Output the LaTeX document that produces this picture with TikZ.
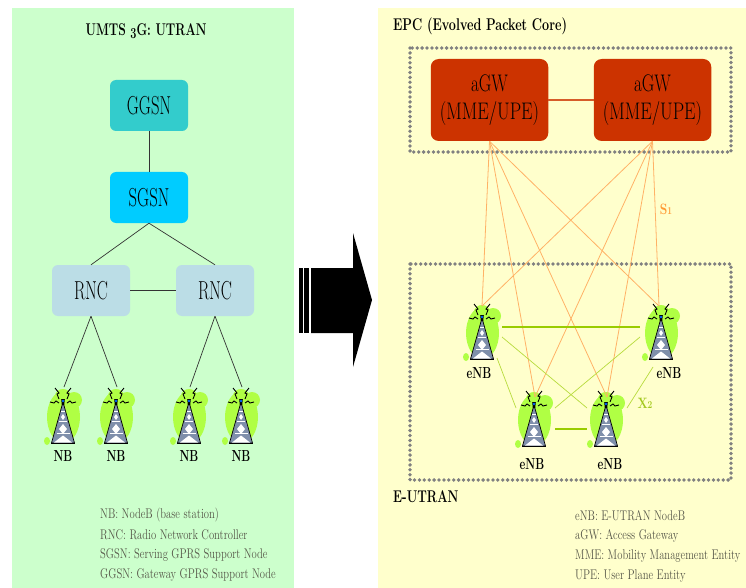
\documentclass[tikz,border=0pt]{standalone}
\newcommand\sq[2]{\scalebox{#1}[1]{#2}}
\newcommand\fs[1]{\fontsize{#1}{#1}\selectfont}
\definecolor{lpanel}{HTML}{CCFFCC}
\definecolor{rpanel}{HTML}{FFFFCC}
\definecolor{ggc}{HTML}{33CCCC}
\definecolor{sgc}{HTML}{00CCFF}
\definecolor{rnc}{HTML}{BBDDE6}
\definecolor{blob}{HTML}{B0FF44}
\definecolor{slate}{HTML}{7F8FAB}
\definecolor{agwc}{HTML}{CC3300}
\definecolor{orl}{HTML}{FFB266}
\definecolor{ort}{HTML}{FF9933}
\definecolor{grl}{HTML}{99CC00}
\definecolor{grt}{HTML}{A3C81E}
\definecolor{legend}{HTML}{555548}
\tikzset{
  box/.style={rounded corners=6pt,inner sep=0pt,minimum width=78pt,minimum height=51pt,align=center},
  agwbox/.style={box,fill=agwc,minimum width=117.5pt,minimum height=82pt,rounded corners=8pt},
  link/.style={line width=0.7pt,black!80},
  olink/.style={line width=0.8pt,orl},
  gthick/.style={line width=1.3pt,grl},
  gthin/.style={line width=0.7pt,grl!70!rpanel},
  dotbox/.style={draw=black!50,line width=3.8pt,line cap=round,dash pattern=on 0pt off 4.9pt},
  lab/.style={inner sep=0pt,anchor=west},
  tlab/.style={inner sep=0pt},
  pics/tower/.style={code={
    \fill[blob] (0.5,15) ellipse[x radius=16.5,y radius=26];
    \fill[blob] (11,-2) circle[radius=8];
    \fill[blob] (0,-6) ellipse[x radius=8,y radius=7];
    \fill[blob] (-16,39) ellipse[x radius=3,y radius=4];
    \fill[slate,draw=black,line width=0.7pt] (0,0)--(11.5,41)--(-11.5,41)--cycle;
    \fill[white] (0,12)--(2,15)--(0,18)--(-2,15)--cycle;
    \fill[white] (0,22)--(4,27)--(0,32)--(-4,27)--cycle;
    \fill[white] (-9,40.5)--(0,33.5)--(9,40.5)--cycle;
    \draw[white,line width=0.4pt] (-2,9)--(2,9) (-4,19)--(4,19) (-6.5,31)--(6.5,31);
    \draw[line width=1.2pt] (-12,41.2)--(12,41.2);
    \fill[black] (-1.8,-3)--(1.8,-3)--(1.2,3)--(-1.2,3)--cycle;
    \fill[blue!60!cyan] (0,-1) circle[radius=1.3];
    \draw[line width=0.9pt] (-4,-3)--(-6,-8)--(-4,-9)--(-8,-14);
    \draw[line width=0.9pt] (4,-3)--(6,-8)--(4,-9)--(8,-14);
    \draw[line width=0.9pt] (-4,1)--(-7,-1)--(-9,1)--(-13,0);
    \draw[line width=0.9pt] (4,1)--(7,-1)--(9,1)--(13,0);
  }}
}
\begin{document}
\begin{tikzpicture}[x=1pt,y=-1pt]
\useasboundingbox (0,0) rectangle (746,588);
\fill[lpanel] (12,8) rectangle (294,588);
\fill[rpanel] (378,8) rectangle (746,588);

% left side
\node[tlab] (ttl) at (146,31) {\fs{17}\bfseries\sq{.71}{UMTS \raisebox{-2.5pt}{\scalebox{.9}{3}}G: UTRAN}};
\node[box,fill=ggc] (ggsn) at (149,105.5) {\fs{26}\sq{.64}{GGSN}};
\node[box,fill=sgc] (sgsn) at (149,197.5) {\fs{26}\sq{.64}{SGSN}};
\node[box,fill=rnc] (rncl) at (91,290.5) {\fs{26}\sq{.64}{RNC}};
\node[box,fill=rnc] (rncr) at (215,290.5) {\fs{26}\sq{.64}{RNC}};
\draw[link] (ggsn) -- (sgsn);
\draw[link] (sgsn.south) -- (rncl.north);
\draw[link] (sgsn.south) -- (rncr.north);
\draw[link,line width=1.2pt] (rncl) -- (rncr);
\foreach \n/\x in {a/63,b/116,c/189,d/241}{
  \pic at (\x,402) {tower};
  \coordinate (nb\n) at (\x+1,387);
  \node[tlab] (lb\n) at (\x,456) {\fs{16}\bfseries\sq{.7}{NB}};
}
\draw[link] (rncl.south) -- (nba);
\draw[link] (rncl.south) -- (nbb);
\draw[link] (rncr.south) -- (nbc);
\draw[link] (rncr.south) -- (nbd);
\node[lab,text=legend] (la) at (100,515) {\fs{14}\sq{.76}{NB: NodeB (base station)}};
\node[lab,text=legend] (lc) at (100,535) {\fs{14}\sq{.76}{RNC: Radio Network Controller}};
\node[lab,text=legend] (ld) at (100,555) {\fs{14}\sq{.76}{SGSN: Serving GPRS Support Node}};
\node[lab,text=legend] (le) at (100,575) {\fs{14}\sq{.76}{GGSN: Gateway GPRS Support Node}};

% arrow
\fill (299,268) rectangle (303,333);
\fill (304,268) rectangle (309,333);
\fill (311,268) -- (353,268) -- (353,233) -- (372,300) -- (353,367) -- (353,333) -- (311,333) -- cycle;

% right side
\node[lab] (epc) at (393,26) {\fs{17}\bfseries\sq{.74}{EPC (Evolved Packet Core)}};
\draw[dotbox] (410,48) rectangle (731,152);
\draw[dotbox] (410,264) rectangle (731,480);
\node[agwbox] (g1) at (489.5,100) {\fs{24}\sq{.72}{aGW}\\[9pt]\fs{24}\sq{.76}{(MME/UPE)}};
\node[agwbox] (g2) at (652.5,100) {\fs{24}\sq{.72}{aGW}\\[9pt]\fs{24}\sq{.76}{(MME/UPE)}};
\draw[line width=1.3pt,agwc!80!rpanel] (g1) -- (g2);

\pic at (482,318) {tower};
\pic at (661,318) {tower};
\pic at (534,405) {tower};
\pic at (606,405) {tower};
\coordinate (e1) at (482,306);
\coordinate (e2) at (659,306);
\coordinate (e3) at (535,397);
\coordinate (e4) at (607,397);
\foreach \g in {g1,g2}{
  \foreach \e in {e1,e2,e3,e4}{
    \draw[olink] (\g.south) -- (\e);
  }
}
\coordinate (xa1) at (502,327); \coordinate (xa2) at (640,327);
\coordinate (xb1) at (502,337); \coordinate (xb2) at (587,408);
\coordinate (xc1) at (640,337); \coordinate (xc2) at (555,408);
\coordinate (xd1) at (497,358); \coordinate (xd2) at (516,408);
\coordinate (xe1) at (653,367); \coordinate (xe2) at (627,408);
\coordinate (xf1) at (555,429); \coordinate (xf2) at (587,429);
\draw[gthick] (xa1) -- (xa2);
\draw[gthick] (xf1) -- (xf2);
\draw[gthin] (xb1) -- (xb2);
\draw[gthin] (xc1) -- (xc2);
\draw[gthin] (xd1) -- (xd2);
\draw[gthin] (xe1) -- (xe2);

\node[tlab] (ne1) at (479,373) {\fs{16}\bfseries\sq{.7}{eNB}};
\node[tlab] (ne2) at (669,373) {\fs{16}\bfseries\sq{.7}{eNB}};
\node[tlab] (ne3) at (532,464) {\fs{16}\bfseries\sq{.7}{eNB}};
\node[tlab] (ne4) at (610,464) {\fs{16}\bfseries\sq{.7}{eNB}};
\node[tlab,text=ort] (s1) at (666,209) {\fs{15}\bfseries\sq{.8}{S\scalebox{.7}{1}}};
\node[tlab,text=grt] (x2) at (645,403) {\fs{15}\bfseries\sq{.8}{X\scalebox{.7}{2}}};
\node[lab] (eu) at (393,497) {\fs{17}\bfseries\sq{.72}{E-UTRAN}};
\node[lab,text=legend] (ra) at (575,516) {\fs{14}\sq{.76}{eNB: E-UTRAN NodeB}};
\node[lab,text=legend] (rb) at (575,536) {\fs{14}\sq{.76}{aGW: Access Gateway}};
\node[lab,text=legend] (rc) at (575,556) {\fs{14}\sq{.76}{MME: Mobility Management Entity}};
\node[lab,text=legend] (rd) at (575,576) {\fs{14}\sq{.76}{UPE: User Plane Entity}};
\end{tikzpicture}
\end{document}
